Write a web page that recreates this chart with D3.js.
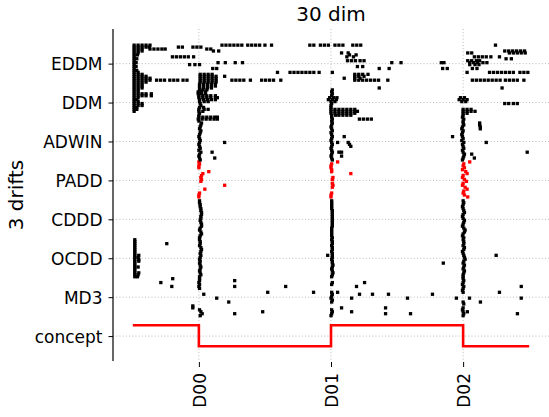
<!DOCTYPE html>
<html>
<head>
<meta charset="utf-8">
<script src="https://cdn.jsdelivr.net/npm/d3@7"></script>
<style>
  body { margin: 0; background: #fff; }
  text { font-family: "DejaVu Sans", sans-serif; fill: #000; }
</style>
</head>
<body>
<script>
// rows bottom -> top
var rowLabels = ["concept", "MD3", "OCDD", "CDDD", "PADD", "ADWIN", "DDM", "EDDM"];
var driftTicks = [500, 1500, 2500],
    driftLabels = ["D00", "D01", "D02"];

// concept state (step after)
var conceptT = [0, 500, 1500, 2500, 3000],
    conceptV = [0.28, -0.26, 0.28, -0.26, -0.26];

// detection times per run (20 runs each, run 0 on top)
var eddmRuns = [
  [10, 40, 70, 100, 130, 675, 705, 735, 765, 795, 825, 870, 900, 930, 960, 1000, 1050, 1340, 1370, 1420, 1450, 1480, 1530, 1560, 1590, 1665, 1695, 1725, 2745],
  [10, 40, 70, 100, 125, 345, 375, 455, 485, 515],
  [10, 40, 70, 130, 160, 190, 220, 245, 560, 590],
  [10, 40, 70, 610, 650, 2815, 2845, 2875, 2905, 2935, 2965],
  [10, 40, 1580, 1630, 2535, 2565, 2850, 2880, 2910, 2940, 2970],
  [10, 35, 1640, 1690],
  [10, 300, 330, 360, 390, 420, 460, 1620, 1670, 2585, 2615, 2645, 2675, 2710, 2775],
  [10, 30, 2825, 2865],
  [10, 1625, 1655, 1685, 1720, 1750, 2535, 2565, 2600, 2625],
  [10, 25, 645, 700, 775, 830, 1960, 2030, 2335, 2355, 2550, 2580, 2610, 2650, 2680],
  [10, 430, 470, 505, 2550, 2590, 2620],
  [10, 25, 1700, 1740],
  [10, 605, 635, 1865, 1940, 2345, 2380, 2570, 2605],
  [10, 30],
  [10, 40, 1095, 1190, 1220, 1250, 1280, 1310, 1340, 1370, 1410, 1510, 2530, 2700, 2730, 2760, 2790, 2820, 2850, 2880, 2930, 2960, 2990],
  [10, 40, 70, 510, 540, 570, 600, 1680, 1710, 1740, 1780],
  [10, 40, 70, 100, 510, 540, 570, 600, 630, 695, 1680, 1710, 1750],
  [10, 40, 70, 100, 130, 510, 540, 570, 600, 630, 1600, 1680, 1720],
  [10, 40, 70, 100, 130, 180, 210, 240, 280, 310, 340, 380, 410, 510, 540, 570, 600, 630, 750, 780, 810, 840, 890, 975, 1005, 1035, 1065, 1120, 1680, 1710, 1740, 1770, 1800, 1830, 1860, 1930, 2570, 2600, 2630, 2660, 2690, 2720, 2750, 2780, 2820, 2850, 2880, 2910, 2960],
  [10, 40, 70, 100, 510, 540, 570, 600, 630]
];

var ddmRuns = [
  [10, 40, 70, 505, 535, 565, 595, 625],
  [10, 40, 70, 505, 535, 565, 595, 625],
  [10, 40, 70, 505, 535, 565, 595, 1865, 2795],
  [10, 40, 505, 530, 560, 1510],
  [10, 40, 495, 520, 550, 1505],
  [10, 40, 70, 100, 140, 495, 520, 550, 1510],
  [10, 40, 70, 100, 140, 500, 530, 560, 590, 625, 1505],
  [10, 40, 500, 530, 560, 590, 625, 640, 1490, 1520, 1545, 2480, 2510],
  [10, 30, 505, 535, 565, 595, 625, 1480, 1510, 1540, 2470, 2500, 2530],
  [10, 40, 505, 540, 570, 1500, 1530, 2490, 2520],
  [10, 40, 70, 510, 1505, 2815, 2845, 2880, 2910],
  [10, 40, 70, 515, 1500],
  [10, 30, 505, 535, 1500],
  [10, 30, 500, 540, 570, 1500, 1530, 1560, 1590, 1620, 1650, 1680, 2500, 2530, 2560],
  [10, 500, 530, 1500, 1530, 1560, 1590, 1620, 1650, 1680, 1700, 2500, 2530, 2560, 2590],
  [505, 1500, 1530, 1560, 1590, 1620, 1650, 1680, 2500, 2530],
  [500, 1505, 1535, 1560, 1590, 1620, 1650, 2500],
  [500, 530, 560, 590, 620, 640, 1505, 2495],
  [495, 525, 555, 585, 615, 640, 1510, 1715, 1745, 1775, 1805, 2505],
  [500, 1505, 2500]
];

var adwinRuns = [
  [520, 1510, 2500, 2625],
  [515, 1505, 2505, 2625],
  [510, 1500, 2495, 2630],
  [505, 1505, 2490, 2630],
  [515, 1510, 2500],
  [510, 1500, 2495],
  [505, 1505, 2490],
  [500, 1510, 1600, 2420, 2495],
  [505, 1505, 2500],
  [510, 1500, 2490],
  [505, 695, 1505, 1550, 1630, 2505, 2675],
  [500, 1510, 1640, 2495],
  [505, 1505, 1650, 2500],
  [510, 1500, 2505],
  [500, 1505, 2495],
  [515, 600, 1510, 1560, 1580, 2500, 2985],
  [505, 1505, 2510, 2565],
  [500, 1500, 1580, 2505],
  [505, 620, 1505, 2500, 2585],
  [510, 1510, 2495]
];

var paddRuns = [
  [500, 1550, 2550],
  [505, 1505, 2505],
  [500, 1500, 2500],
  [500, 1500, 2510],
  [1505, 2495],
  [575, 1505, 2520],
  [530, 1650, 2530],
  [520, 2500],
  [515, 1515, 2495],
  [520, 1510, 2510],
  [515, 2525],
  [1510, 2500],
  [695, 1515, 2495],
  [1510, 2515],
  [545, 2530],
  [2505],
  [505, 1505, 2500],
  [500, 1500, 2510],
  [500, 1500, 2535],
  []
];

var cdddRuns = [
  [505, 1505, 2500], [505, 1505, 2505], [510, 1505, 2500], [510, 1505, 2495],
  [515, 1505, 2500], [515, 1510, 2505], [520, 1510, 2510], [520, 1510, 2500],
  [515, 1510, 2495], [515, 1510, 2500], [510, 1510, 2510], [515, 1510, 2505],
  [520, 1510, 2500], [520, 1510, 2495], [510, 1505, 2505], [505, 1505, 2515],
  [515, 1505, 2510], [520, 1505, 2500], [510, 1505, 2495], [505, 1510, 2505]
];

var ocddRuns = [
  [15, 505, 1505, 2500],
  [15, 510, 1510, 2505],
  [15, 257, 510, 1510, 2505],
  [15, 505, 1505, 2500],
  [15, 515, 1510, 2510],
  [15, 520, 1510, 2505],
  [15, 515, 1505, 2495],
  [15, 510, 1510, 2500],
  [15, 45, 515, 1475, 1510, 2505, 2750],
  [15, 40, 510, 1510, 2510],
  [15, 45, 505, 1505, 2515],
  [15, 45, 510, 1510, 2505],
  [15, 505, 1510, 2350, 2500],
  [15, 510, 1515, 2510],
  [15, 40, 515, 1510, 2505],
  [15, 510, 1505, 2500],
  [15, 505, 1510, 2510],
  [15, 45, 510, 1515, 2505],
  [15, 40, 515, 1510, 2500],
  [15, 35, 505, 1505, 2500]
];

var md3Runs = [
  [302, 505, 2500],
  [771, 505, 2505],
  [212, 500, 1510, 1754, 2500],
  [505, 1505, 2495],
  [295, 500, 771, 1157, 1693, 2940, 2505],
  [505, 2500],
  [2495],
  [1021, 1368, 1505, 1550, 2775, 2500],
  [537, 1510, 1716, 1814, 1935, 2268],
  [1505],
  [635, 1500, 1656, 2079, 2449, 2548, 2940],
  [1510],
  [726, 1505, 2631, 2500],
  [2505],
  [454],
  [454, 1580, 1913, 2500],
  [505, 1505, 2495],
  [983, 515, 1510, 1656, 2532, 2500],
  [771, 525, 1505, 1913, 2102, 2911, 2505],
  [510, 1500, 2500]
];

var runsByRow = [null, md3Runs, ocddRuns, cdddRuns, paddRuns, adwinRuns, ddmRuns, eddmRuns];

var width = 549, height = 417;
var margin = {top: 29, left: 113, bottom: 56};

var svg = d3.select("body").append("svg")
    .attr("width", width)
    .attr("height", height);

var x = d3.scaleLinear().domain([-150, 3150]).range([margin.left, width]),
    y = d3.scaleLinear().domain([-0.64, 7.89]).range([height - margin.bottom, margin.top]);

// grid
svg.append("g").selectAll("line.hg")
    .data(rowLabels)
    .enter().append("line")
    .attr("x1", margin.left).attr("x2", width)
    .attr("y1", (d, i) => y(i)).attr("y2", (d, i) => y(i))
    .attr("stroke", "#b0b0b0").attr("stroke-width", 0.9)
    .attr("stroke-dasharray", "1,2.2");

svg.append("g").selectAll("line.vg")
    .data(driftTicks)
    .enter().append("line")
    .attr("x1", d => x(d)).attr("x2", d => x(d))
    .attr("y1", margin.top).attr("y2", height - margin.bottom)
    .attr("stroke", "#b0b0b0").attr("stroke-width", 0.9)
    .attr("stroke-dasharray", "1,2.2");

// detections
var pts = [];
runsByRow.forEach(function(runs, k) {
  if (!runs) return;
  runs.forEach(function(times, r) {
    times.forEach(function(t) {
      pts.push({t: t, v: k + 0.475 - r * 0.05, red: rowLabels[k] === "PADD"});
    });
  });
});

var ms = 3.3;
svg.append("g").selectAll("rect")
    .data(pts)
    .enter().append("rect")
    .attr("x", d => x(d.t) - ms / 2)
    .attr("y", d => y(d.v) - ms / 2)
    .attr("width", ms).attr("height", ms)
    .attr("fill", d => d.red ? "#ff0000" : "#000");

// concept line
var line = d3.line()
    .x((d, i) => x(conceptT[i]))
    .y(d => y(d))
    .curve(d3.curveStepAfter);

svg.append("path")
    .attr("d", line(conceptV))
    .attr("fill", "none")
    .attr("stroke", "#ff0000")
    .attr("stroke-width", 2.6);

// axes
var yAxis = d3.axisLeft(y).tickValues(d3.range(rowLabels.length))
    .tickFormat(i => rowLabels[i]).tickSize(4.5).tickPadding(6);
var gy = svg.append("g")
    .attr("transform", `translate(${margin.left},0)`)
    .call(yAxis);
gy.select(".domain").attr("d", `M0,${margin.top}V${height - margin.bottom}`).attr("stroke-width", 1.2);
gy.selectAll("text").attr("font-size", 17).attr("dy", ".36em");

var xAxis = d3.axisBottom(x).tickValues(driftTicks)
    .tickFormat((d, i) => driftLabels[i]).tickSize(5);
var gx = svg.append("g")
    .attr("transform", `translate(0,${height - margin.bottom + 1})`)
    .call(xAxis);
gx.select(".domain").remove();
gx.selectAll("text")
    .attr("font-size", 17)
    .attr("transform", "rotate(-90)")
    .attr("text-anchor", "end")
    .attr("x", -11).attr("y", 0).attr("dy", ".36em");

svg.append("text")
    .attr("x", (margin.left + width) / 2).attr("y", 21)
    .attr("text-anchor", "middle")
    .attr("font-size", 20)
    .text("30 dim");

svg.append("text")
    .attr("transform", `translate(23,${(margin.top + height - margin.bottom) / 2}) rotate(-90)`)
    .attr("text-anchor", "middle")
    .attr("font-size", 20)
    .text("3 drifts");
</script>
</body>
</html>
